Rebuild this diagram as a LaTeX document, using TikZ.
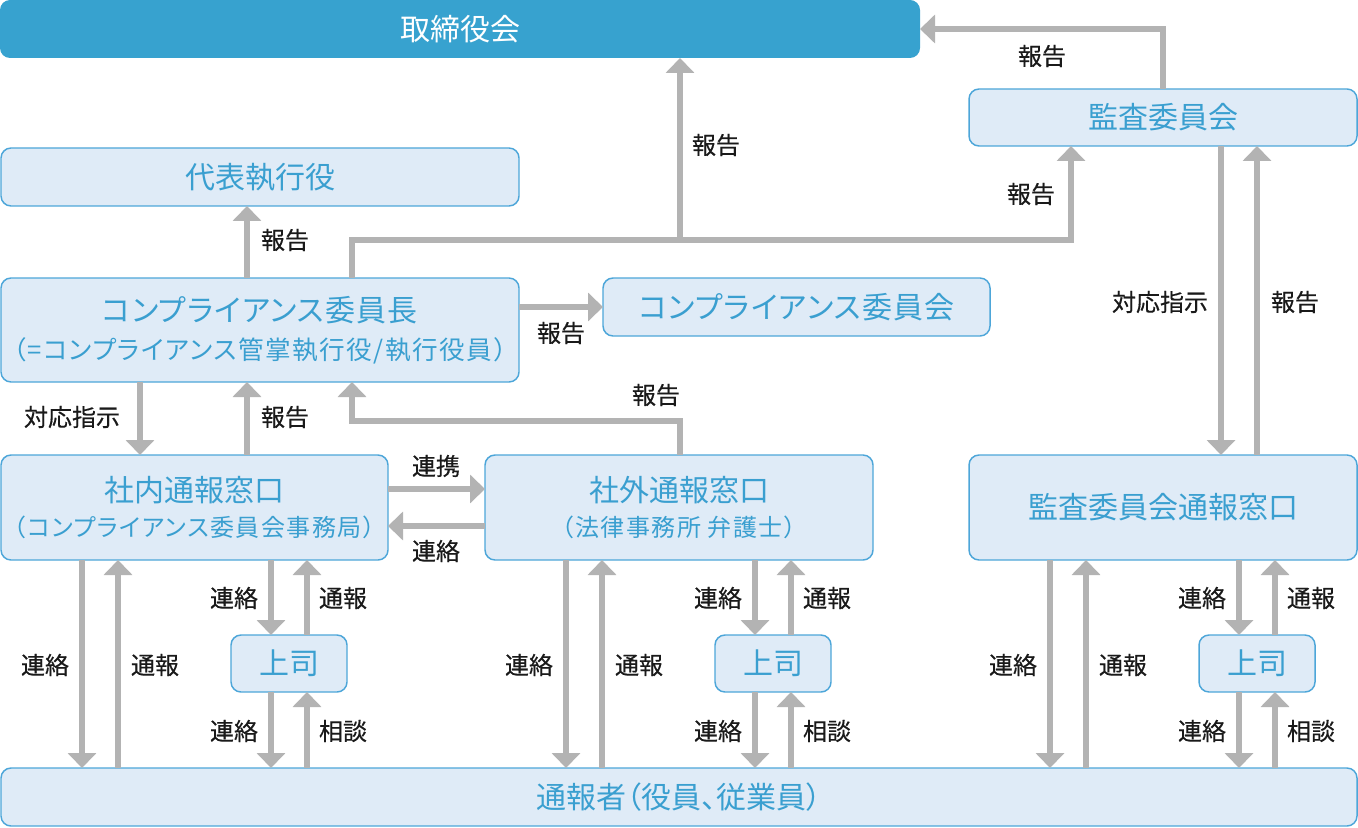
\documentclass[tikz,border=0pt]{standalone}
\usepackage{fontspec}
\setmainfont{Noto Sans CJK JP}[RawFeature={+palt}]
\newfontfamily\kanafont{Noto Sans CJK JP}[RawFeature={+palt}, LetterSpace=4]
\newfontfamily\subfont{Noto Sans CJK JP}[RawFeature={+palt}, LetterSpace=6]
\newfontfamily\labfont{Noto Sans CJK JP}[FakeBold=0.4]
\usetikzlibrary{arrows.meta,calc}
\definecolor{boardfill}{HTML}{37A2CF}
\definecolor{boxfill}{HTML}{DFEBF7}
\definecolor{boxline}{HTML}{4DA6D9}
\definecolor{bluetext}{HTML}{3A9FD0}
\definecolor{arrowgray}{HTML}{B3B3B3}
\definecolor{labeltext}{HTML}{1A1A1A}
\begin{document}
\begin{tikzpicture}[x=0.75pt,y=-0.75pt,
  wh/.style 2 args={minimum width={#1*0.75pt}, minimum height={#2*0.75pt}},
  box/.style={draw=boxline, fill=boxfill, line width=1.1pt, rounded corners=7.5pt,
    inner sep=0pt, outer sep=0pt, text=bluetext, align=center,
    font=\fontsize{22.5}{27}\selectfont},
  kanabox/.style={box, font=\kanafont\fontsize{22.5}{27}\selectfont},
  boardbox/.style={fill=boardfill, rounded corners=7.5pt, inner sep=0pt, outer sep=0pt,
    text=white, font=\fontsize{22.5}{27}\selectfont},
  arr/.style={draw=arrowgray, line width=4.5pt, line join=miter,
    -{Triangle[width=21pt,length=11.25pt]}},
  lab/.style={text=labeltext, inner sep=0pt, font=\labfont\fontsize{18}{22}\selectfont}]
\useasboundingbox (0,0) rectangle (1358,827);

% boxes
\node[boardbox, wh={920}{58}] (board) at (460,29) {取締役会};
\node[box, wh={518}{58}] (daihyo) at (260,177) {代表執行役};
\node[kanabox, wh={518}{104}] (chief) at (260,330)
  {コンプライアンス委員長\\[1.3pt]\subfont\fontsize{19.2}{27}\selectfont （=コンプライアンス管掌執行役/執行役員）};
\node[kanabox, wh={387}{58}] (iinkai) at (796.5,307) {コンプライアンス委員会};
\node[box, wh={388}{57}] (kansa) at (1163,117.5) {監査委員会};
\node[box, wh={387}{105}] (shanai) at (194.5,507.5)
  {社内通報窓口\\[-1.4pt]\subfont\fontsize{18}{27}\selectfont （コンプライアンス委員会事務局）};
\node[box, wh={388}{105}] (shagai) at (679,507.5)
  {社外通報窓口\\[-1.4pt]\subfont\fontsize{18}{27}\selectfont （法律事務所 弁護士）};
\node[box, wh={388}{105}] (kmado) at (1163,507.5) {監査委員会通報窓口};
\node[box, wh={116}{57}] (boss1) at (289,663.5) {上司};
\node[box, wh={116}{57}] (boss2) at (773,663.5) {上司};
\node[box, wh={116}{57}] (boss3) at (1257,663.5) {上司};
\node[box, wh={1356}{58}] (tsuho) at (679,797) {通報者（役員、従業員）};

% upper connectors
\coordinate (j1) at (680,240);
\coordinate (j2) at (680,421);
\draw[arr] (chief.north -| 247,0) -- (daihyo.south -| 247,0);
\draw[arr] (chief.north -| 352,0) |- (j1) -- (board.south -| j1);
\draw[arr] (j1) -| (kansa.south -| 1071,0);
\draw[arr] (chief.east |- iinkai.west) -- (iinkai.west);
\draw[arr] (kansa.north) |- (board.east);
\draw[arr] (kansa.south -| 1221,0) -- (kmado.north -| 1221,0);
\draw[arr] (kmado.north -| 1257,0) -- (kansa.south -| 1257,0);
\draw[arr] (chief.south -| 140,0) -- (shanai.north -| 140,0);
\draw[arr] (shanai.north -| 247,0) -- (chief.south -| 247,0);
\draw[arr] (shagai.north -| j2) -- (j2) -| (chief.south -| 352,0);
\draw[arr] (shanai.east |- 0,489) -- (shagai.west |- 0,489);
\draw[arr] (shagai.west |- 0,526) -- (shanai.east |- 0,526);

% upper labels
\node[lab] (l1) at (285,240) {報告};
\node[lab] (l2) at (716,145) {報告};
\node[lab] (l3) at (1031,194) {報告};
\node[lab] (l4) at (561,333) {報告};
\node[lab] (l5) at (1042,56) {報告};
\node[lab] (l6) at (1160,302) {対応指示};
\node[lab] (l7) at (1295,302) {報告};
\node[lab] (l8) at (72,417) {対応指示};
\node[lab] (l9) at (285,417) {報告};
\node[lab] (l10) at (656,395) {報告};
\node[lab] (l11) at (436,466) {連携};
\node[lab] (l12) at (436,551) {連絡};

% lower columns
\foreach \top/\boss/\dx [evaluate=\dx as \xa using int(82+\dx),
    evaluate=\dx as \xb using int(118+\dx),
    evaluate=\dx as \xc using int(271+\dx),
    evaluate=\dx as \xd using int(307+\dx),
    evaluate=\dx as \la using int(45+\dx),
    evaluate=\dx as \lb using int(155+\dx),
    evaluate=\dx as \lc using int(234+\dx),
    evaluate=\dx as \ld using int(343+\dx)]
  in {shanai/boss1/0, shagai/boss2/484, kmado/boss3/968} {
  \draw[arr] (\top.south -| \xa,0) -- (tsuho.north -| \xa,0);
  \draw[arr] (tsuho.north -| \xb,0) -- (\top.south -| \xb,0);
  \draw[arr] (\top.south -| \xc,0) -- (\boss.north -| \xc,0);
  \draw[arr] (\boss.north -| \xd,0) -- (\top.south -| \xd,0);
  \draw[arr] (\boss.south -| \xc,0) -- (tsuho.north -| \xc,0);
  \draw[arr] (tsuho.north -| \xd,0) -- (\boss.south -| \xd,0);
  \node[lab] (\top-a) at (\la,665) {連絡};
  \node[lab] (\top-b) at (\lb,665) {通報};
  \node[lab] (\top-c) at (\lc,598) {連絡};
  \node[lab] (\top-d) at (\ld,598) {通報};
  \node[lab] (\top-e) at (\lc,731) {連絡};
  \node[lab] (\top-f) at (\ld,731) {相談};
}
\end{tikzpicture}
\end{document}
